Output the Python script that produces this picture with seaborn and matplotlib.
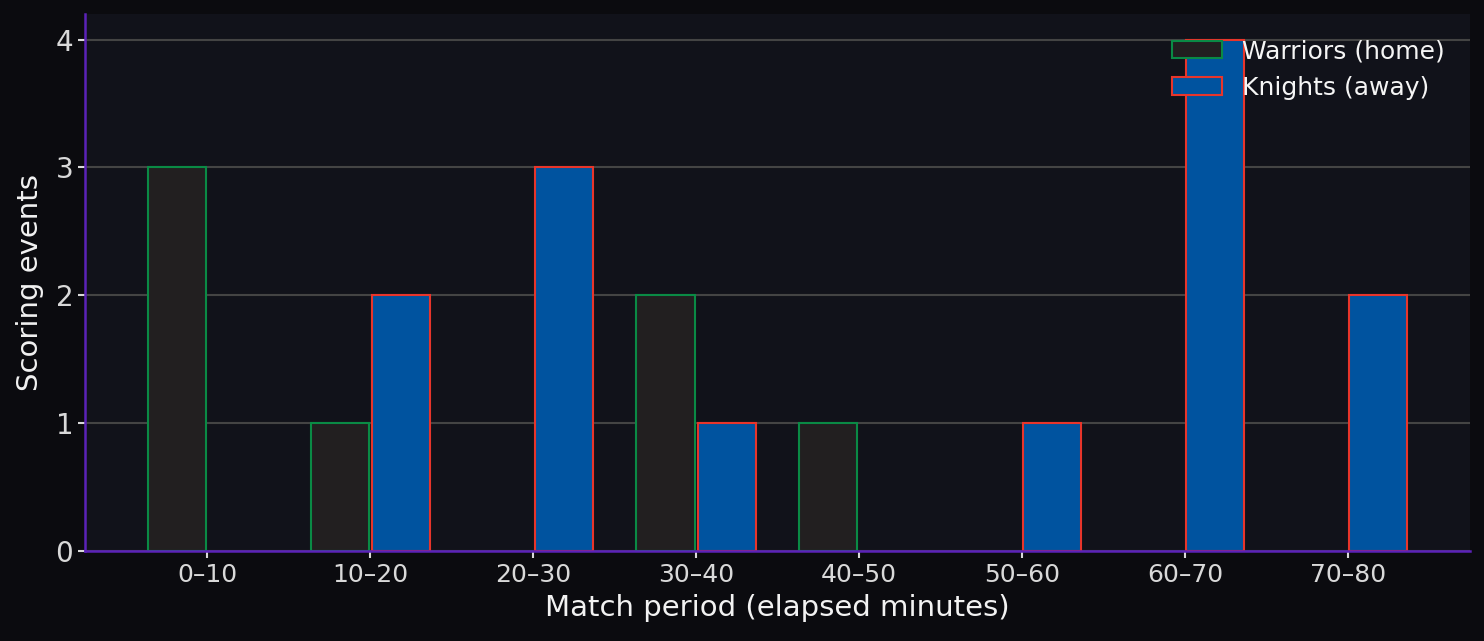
import pandas as pd
import numpy as np
import seaborn as sns
import matplotlib.pyplot as plt
from matplotlib.patches import Patch

periods = ['0–10', '10–20', '20–30', '30–40', '40–50', '50–60', '60–70', '70–80']
warriors = [3, 1, 0, 2, 1, 0, 0, 0]
knights = [0, 2, 3, 1, 0, 1, 4, 2]
teams = ['Warriors (home)', 'Knights (away)']

fill_colors = {'Warriors (home)': '#221f20', 'Knights (away)': '#00539f'}
edge_colors = {'Warriors (home)': '#0a8a45', 'Knights (away)': '#e8352b'}

df = pd.DataFrame({
    'period': periods * 2,
    'team': [teams[0]] * len(periods) + [teams[1]] * len(periods),
    'events': warriors + knights,
})

sns.set_style('dark')
plt.rcParams['font.family'] = ['DejaVu Sans']

fig = plt.figure(figsize=(14.84, 6.41), dpi=100, facecolor='#0b0b0f')
ax = fig.add_axes([85 / 1484, 1 - 551 / 641, (1470 - 85) / 1484, (551 - 14) / 641])
ax.set_facecolor('#11121a')

sns.barplot(data=df, x='period', y='events', hue='team', hue_order=teams,
            palette=fill_colors, width=0.75, gap=0.05, legend=False, ax=ax,
            err_kws={'linewidth': 0}, saturation=1)

for team, cont in zip(teams, ax.containers):
    for p in cont.patches:
        p.set_edgecolor(edge_colors[team])
        p.set_linewidth(1.5 if p.get_height() > 0 else 0)
        p.set_zorder(3)

ax.set_xlim(-0.75, 7.75)
ax.set_ylim(0, 4.2)
ax.set_yticks([0, 1, 2, 3, 4])

ax.grid(axis='y', color='#444444', linewidth=1.5, zorder=0)
ax.grid(axis='x', visible=False)
ax.set_axisbelow(True)

for s in ['top', 'right']:
    ax.spines[s].set_visible(False)
for s in ['left', 'bottom']:
    ax.spines[s].set_visible(True)
    ax.spines[s].set_color('#5b22b8')
    ax.spines[s].set_linewidth(1.8)
    ax.spines[s].set_zorder(4)

ax.tick_params(axis='x', colors='#d9d9d9', labelsize=18, length=5, width=1.5,
               bottom=True)
ax.tick_params(axis='y', colors='#d9d9d9', labelsize=20, length=5, width=1.5,
               left=True)
ax.set_xlabel('Match period (elapsed minutes)', color='#f2f2f2', fontsize=21,
              labelpad=5)
ax.set_ylabel('Scoring events', color='#f2f2f2', fontsize=21, labelpad=8)

handles = [Patch(facecolor=fill_colors[t], edgecolor=edge_colors[t], linewidth=1.5,
                 label=t) for t in teams]
leg = ax.legend(handles=handles, loc='upper right', frameon=False, fontsize=18,
                labelcolor='#f5f5f5', borderaxespad=0.6)

fig.savefig('out.png', dpi=100, facecolor=fig.get_facecolor())
